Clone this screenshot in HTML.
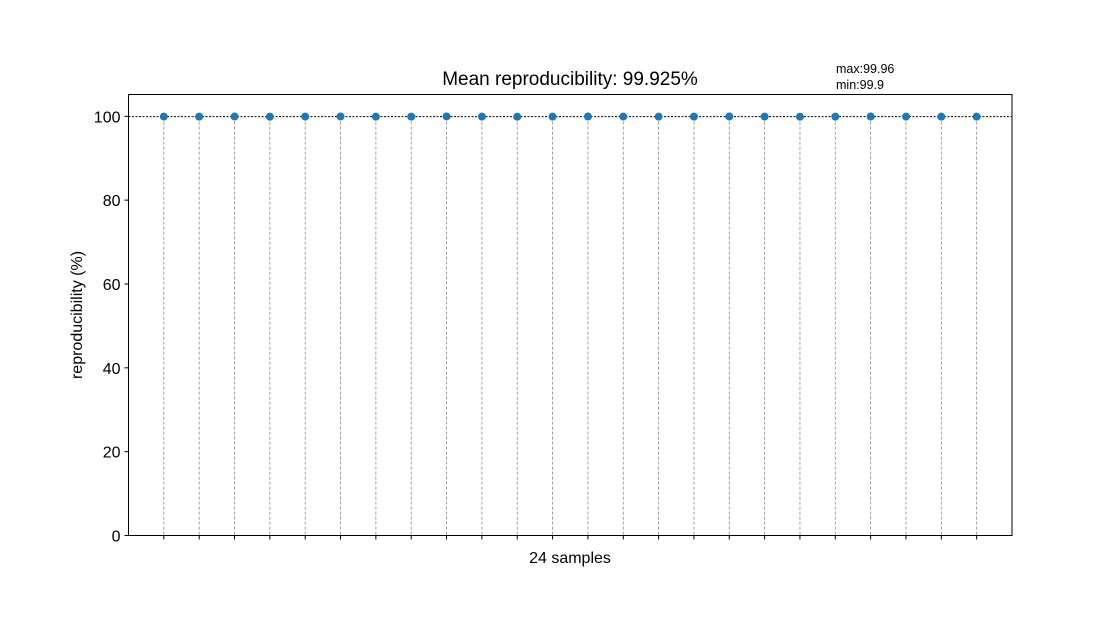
<!DOCTYPE html>
<html><head><meta charset="utf-8"><style>
body{margin:0;background:#fff;}
svg text{font-family:"Liberation Sans",sans-serif;fill:#000;}
</style></head><body>
<svg width="1114" height="624" xmlns="http://www.w3.org/2000/svg">
<rect width="1114" height="624" fill="#fff"/>
<g id="plot"></g>
<rect x="128.5" y="94.5" width="883.5" height="441" fill="none" stroke="#000" stroke-width="1"/>
<text x="570" y="85" font-size="19" text-anchor="middle">Mean reproducibility: 99.925%</text>
<text x="836" y="73" font-size="12.5">max:99.96</text>
<text x="836" y="89" font-size="12.5">min:99.9</text>
<text x="570" y="563" font-size="16" text-anchor="middle">24 samples</text>
<text transform="translate(82,315) rotate(-90)" font-size="16" text-anchor="middle">reproducibility (%)</text>
</svg>
<script>
const values=[99.93,99.92,99.94,99.9,99.93,99.95,99.91,99.92,99.96,99.93,99.9,99.92,99.94,99.93,99.91,99.92,99.95,99.93,99.9,99.92,99.94,99.93,99.91,99.92];
const yTicks=[0,20,40,60,80,100];
const meanValue=99.925;
const L=128.5,R=1012,T=94.5,B=535.5;
const xS=i=>L+(i+1)*(R-L)/(values.length+1);
const yS=v=>B-(v/105.2)*(B-T);
const g=document.getElementById('plot');
const NS='http://www.w3.org/2000/svg';
function mk(t,a){const e=document.createElementNS(NS,t);for(const k in a)e.setAttribute(k,a[k]);g.appendChild(e);return e;}
yTicks.forEach(v=>{
 const y=yS(v);
 const tk=mk('line',{x1:L-4,x2:L,y1:y,y2:y,stroke:'#000'});
 
 
 const t=mk('text',{x:L-8,y:y+6,'font-size':16,'text-anchor':'end'});
 t.textContent=v;
 
 
});
values.forEach((v,i)=>{
 const x=xS(i);
 const l=mk('line',{x1:x,x2:x,y1:yS(v),y2:B,stroke:'#888','stroke-width':0.8,'stroke-dasharray':'3,2'});
 
 
 const tk=mk('line',{x1:x,x2:x,y1:B,y2:B+4,stroke:'#000'});
 
 
});
const m=mk('line',{x1:L,x2:R,y1:yS(meanValue),y2:yS(meanValue),stroke:'#000','stroke-width':1,'stroke-dasharray':'2,1.5'});


values.forEach((v,i)=>{
 const c=mk('circle',{cx:xS(i),cy:yS(v),r:4,fill:'#1f77b4'});
 
 
});
</script>
</body></html>
